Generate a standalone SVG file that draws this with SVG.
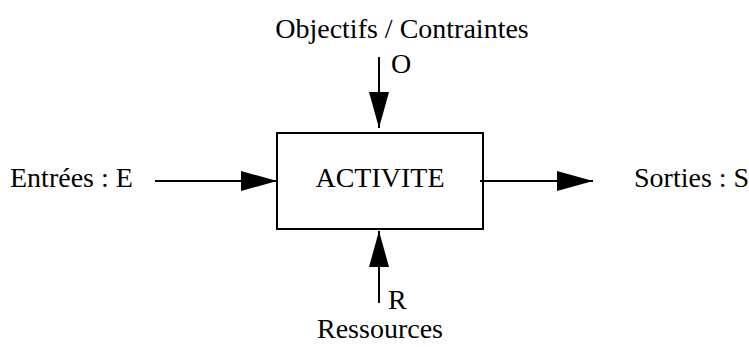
<svg xmlns="http://www.w3.org/2000/svg" width="749" height="347" viewBox="0 0 749 347">
  <style>
    .lbl { font-size: 28px; fill: #000; }
    .line { stroke: #000; stroke-width: 2; fill: none; }
    .box { stroke: #000; stroke-width: 2; fill: #fff; }
  </style>
  <defs>
    <marker id="arrow" viewBox="0 0 36 20" refX="36" refY="10" markerWidth="36" markerHeight="20" markerUnits="userSpaceOnUse" orient="auto">
      <path d="M0,0 L36,10 L0,20 Z" fill="#000"/>
    </marker>
  </defs>

  <!-- central activity box -->
  <g id="activite">
    <rect class="box" x="277" y="133" width="206" height="96"/>
    <text class="lbl" style="font-family: 'Liberation Serif', serif" x="380" y="187" text-anchor="middle">ACTIVITE</text>
  </g>

  <g id="objectifs">
    <text class="lbl" style="font-family: 'Liberation Serif', serif" x="402" y="38" text-anchor="middle">Objectifs / Contraintes</text>
    <text class="lbl" style="font-family: 'Liberation Serif', serif" x="391" y="73">O</text>
  </g>

  <g id="entrees">
    <text class="lbl" style="font-family: 'Liberation Serif', serif" x="10" y="187">Entrées : E</text>
  </g>

  <g id="sorties">
    <text class="lbl" style="font-family: 'Liberation Serif', serif" x="634" y="187">Sorties : S</text>
  </g>

  <g id="ressources">
    <text class="lbl" style="font-family: 'Liberation Serif', serif" x="388" y="309">R</text>
    <text class="lbl" style="font-family: 'Liberation Serif', serif" x="380" y="338" text-anchor="middle">Ressources</text>
  </g>

  <!-- connectors -->
  <g id="connectors">
    <line class="line" x1="379" y1="57" x2="379" y2="128" marker-end="url(#arrow)"/>
    <line class="line" x1="155" y1="181" x2="277" y2="181" marker-end="url(#arrow)"/>
    <line class="line" x1="480" y1="181" x2="593" y2="181" marker-end="url(#arrow)"/>
    <line class="line" x1="379" y1="303" x2="379" y2="231" marker-end="url(#arrow)"/>
  </g>
</svg>
